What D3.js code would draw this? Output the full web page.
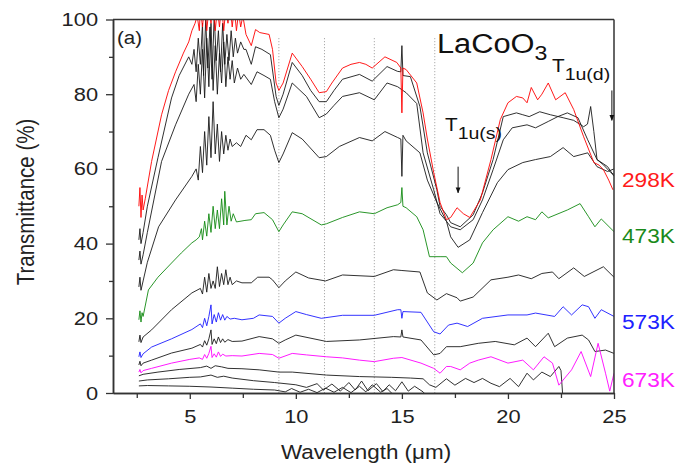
<!DOCTYPE html>
<html><head><meta charset="utf-8">
<script src="https://cdn.jsdelivr.net/npm/d3@7"></script>
<style>
html,body{margin:0;padding:0;background:#fff;}
svg{display:block;font-family:"Liberation Sans",Arial,sans-serif;}
</style></head>
<body><svg id="c" width="678" height="471"></svg>
<script>
// ---------- data (wavelength µm, transmittance %) ----------
const xTicks = [5, 10, 15, 20, 25];
const xMinor = [2.5, 7.5, 12.5, 17.5, 22.5];
const yTicks = [0, 20, 40, 60, 80, 100];
const yMinor = [10, 30, 50, 70, 90];
const guideLines = [9.2, 11.35, 13.7, 16.55];

const s298 = [[2.6,50],[2.65,55],[2.7,47],[2.75,53],[2.8,49],[2.9,52],[3.2,62],[3.67,74.5],[4.0,81],[4.33,86],[4.7,91],[4.95,94],[5.1,97],[5.25,99],[5.35,101],[5.45,97],[5.5,103],[5.6,98],[5.7,104],[5.8,97],[5.9,103],[6.0,99],[6.1,105],[6.2,97],[6.3,103],[6.4,98],[6.5,104],[6.6,97],[6.7,103],[6.8,99],[6.9,104],[7.0,98],[7.1,103],[7.2,97],[7.3,102],[7.4,98],[7.5,101],[7.65,96],[7.9,93],[8.1,97.3],[8.3,96.5],[8.74,96],[8.9,92],[9.07,83],[9.2,81],[9.4,83],[9.83,91],[10.3,87.4],[10.7,84],[11.1,80.4],[11.44,80.7],[11.7,83],[12.2,87],[12.6,88],[13.0,88.5],[13.3,88],[13.6,87],[14.2,90],[14.76,88.5],[14.95,87],[15.0,75],[15.05,87],[15.2,86.6],[15.7,83],[16.0,75],[16.2,68],[16.5,59],[16.8,51],[17.1,46.4],[17.3,47],[17.6,49.6],[17.9,48],[18.2,47],[18.7,51.7],[19.2,62.5],[19.64,73.2],[20,77.7],[20.4,79.4],[20.7,79],[20.9,77.7],[21.1,81.8],[21.4,78.5],[21.6,80],[21.9,83],[22.25,78.5],[22.7,80.4],[23.1,75.9],[23.57,68.6],[24.05,61.7],[24.3,61],[24.5,59.8],[24.75,57],[24.95,54.4]];
const s323 = [[2.6,41],[2.65,44],[2.7,40],[2.8,43],[3.0,50],[3.5,63],[4.14,79],[4.5,85],[4.95,90],[5.1,88],[5.2,92],[5.3,86],[5.4,95],[5.5,88],[5.6,99],[5.65,85],[5.75,100],[5.85,87],[5.95,98],[6.05,84],[6.15,101],[6.25,89],[6.35,97],[6.45,86],[6.55,99],[6.65,88],[6.75,96],[6.85,89],[6.95,97],[7.05,90],[7.15,95],[7.25,91],[7.4,94],[7.55,92],[7.65,92],[7.9,88],[8.1,92.7],[8.4,92],[8.8,90.6],[9.07,79.4],[9.2,77],[9.4,80],[9.83,88.5],[10.3,85],[10.7,81],[11.1,78],[11.44,78],[11.8,81],[12.2,84],[13.0,85.3],[13.6,83.5],[14.3,87.4],[14.8,86.1],[14.95,86],[15.0,93],[15.05,85],[15.4,84.7],[15.85,76.7],[16.2,64.3],[16.65,54.4],[16.8,50],[17.1,47.7],[17.3,45.6],[17.75,44.5],[18.36,47.7],[18.8,53.6],[19.3,62.5],[19.78,74],[20.4,75],[20.7,74.5],[21.0,74],[21.5,75.3],[22.0,74.5],[22.6,73.7],[23.1,73],[23.57,71.3],[23.75,72],[23.9,76.7],[24.05,70],[24.2,62.5],[24.5,61.1],[24.85,59],[25,58.5]];
const s373 = [[2.6,35.6],[2.65,38],[2.7,34.5],[2.8,37],[3.0,43],[3.67,62],[4.33,71.8],[4.95,80],[5.2,82.6],[5.3,78],[5.4,88],[5.5,80],[5.6,92],[5.7,79],[5.8,95],[5.9,82],[6.0,99],[6.1,81],[6.2,93],[6.3,80],[6.4,91],[6.5,83],[6.6,94],[6.7,82],[6.8,90],[6.9,84],[7.0,89],[7.1,83],[7.25,87],[7.4,84],[7.55,85.3],[7.9,82.6],[8.17,86],[8.5,85],[8.8,84],[9.0,78],[9.2,73.7],[9.4,76],[9.83,83],[10.5,79.4],[11.1,73.7],[11.44,74.7],[11.8,77],[12.2,79.4],[13.0,80.4],[13.7,78.5],[14.3,83],[14.8,82],[15.2,80.4],[15.7,77.5],[16.0,64.3],[16.5,54.4],[16.8,48],[17.1,46],[17.3,44.5],[17.75,43.7],[18.36,46.4],[18.8,51.7],[19.3,59.8],[19.78,67.8],[20.2,71],[20.9,71.8],[21.3,71],[21.9,72.7],[22.35,74],[22.8,75],[23.3,73.7],[23.76,67.8],[24.2,62.5],[24.7,60.6],[25,58]];
const s423 = [[2.6,28.4],[2.65,31],[2.7,27.5],[2.8,30],[3.0,35],[3.53,44.5],[4.33,51.7],[5.1,58],[5.3,60],[5.4,57],[5.5,66],[5.6,59],[5.7,70],[5.8,61],[5.9,74],[6.0,63],[6.1,78],[6.2,64],[6.3,72],[6.4,62],[6.5,70],[6.6,64],[6.7,69],[6.8,65],[6.9,68],[7.0,66],[7.2,67],[7.4,66],[7.65,69],[7.9,67.8],[8.17,70.5],[8.5,70.5],[8.8,69],[9.0,65],[9.2,61.7],[9.4,64],[9.83,69.7],[10.3,68],[11.1,63],[11.44,63.3],[12.05,66],[13.0,68.4],[13.6,67.5],[14.2,70],[14.8,68.4],[14.95,68],[15.0,58],[15.05,69],[15.2,67.5],[15.85,64.3],[16.2,57],[16.65,51],[17.1,46],[17.3,41.8],[17.65,39],[18.2,41],[18.8,48.3],[19.5,56.3],[20,59.8],[20.7,61.7],[21.3,62.5],[22.0,63.3],[22.6,65.7],[23.1,63.3],[23.76,64.3],[24.2,60.6],[24.7,59.3],[25,60]];
const s473 = [[2.6,19.6],[2.65,22],[2.7,19],[2.75,21.5],[2.8,20.5],[3.05,27.6],[3.5,31],[4.14,34.8],[4.6,37.5],[5.1,40.2],[5.3,41],[5.45,41.8],[5.55,44],[5.6,41],[5.7,46],[5.8,42],[5.9,48],[6.0,43],[6.1,50],[6.2,44],[6.3,49],[6.4,44],[6.5,52],[6.6,45],[6.65,54],[6.75,45],[6.85,50],[6.95,46],[7.05,48],[7.2,45.8],[7.6,46.2],[7.9,46.4],[8.1,48],[8.5,48.3],[8.9,46.4],[9.2,43.2],[9.4,45],[9.83,48.5],[10.3,48],[11.2,45],[11.44,45.3],[12.2,47],[13.0,48.5],[13.7,48],[14.3,49.6],[14.8,50.4],[14.95,51],[15.0,55],[15.05,50],[15.2,49.6],[15.7,47.2],[16.0,43.7],[16.3,36.5],[16.8,36.5],[17.1,36.5],[17.3,34.8],[17.85,32.2],[18.36,34.8],[18.8,40.2],[19.3,43.7],[20,47.2],[20.5,46],[20.9,47.2],[21.3,46.4],[21.6,48.5],[21.9,46.9],[22.8,49],[23.4,50.7],[23.8,47.2],[24.1,44.5],[24.4,46.6],[25,43.2]];
const s523 = [[2.6,13.7],[2.65,15.5],[2.7,13.5],[2.8,15],[3.2,16.9],[4.14,22.3],[5.1,26.8],[5.5,28],[5.6,26.5],[5.7,31],[5.8,27],[5.9,32],[6.0,28],[6.1,30],[6.2,28],[6.3,33.8],[6.4,28.5],[6.5,32],[6.6,29],[6.7,33],[6.8,29],[6.9,31],[7.0,29],[7.2,30],[7.46,29.5],[7.9,29.5],[8.2,31],[8.74,31],[8.9,30.3],[9.2,28.2],[9.5,30],[10.0,32.4],[10.6,30.8],[11.4,30],[12.2,31.6],[13.7,31.2],[14.6,33],[15.0,32.8],[15.85,32.4],[16.2,26.8],[16.65,24.9],[17.1,26.6],[17.6,25.5],[17.75,24.6],[18.36,25.7],[19.2,30.3],[20,31],[20.5,31.6],[21.1,30.6],[21.6,32],[22.1,32.4],[22.4,30.6],[23.1,33.5],[23.6,31.2],[24.5,33.8],[25,31]];
const s573 = [[2.6,9.7],[2.65,11],[2.7,9.5],[2.8,10.5],[3.2,12.3],[4.14,14.5],[5.1,17],[5.5,18.5],[5.6,17.5],[5.7,20],[5.8,18],[5.9,20.5],[6.0,23.6],[6.05,18.5],[6.15,21],[6.25,19],[6.35,21.5],[6.45,19.5],[6.55,21],[6.65,19.5],[6.75,20.5],[6.9,19.8],[7.1,20],[7.46,19.6],[8.0,20],[8.27,20.9],[8.9,20.5],[9.2,18.7],[9.5,20],[10.0,21.8],[10.5,21],[11.2,20],[12.2,20.8],[13.7,20.8],[14.8,22.3],[14.95,22.3],[15.0,20],[15.05,21.8],[15.9,21.6],[16.5,16.4],[16.8,15.8],[17.2,18.2],[17.6,18.7],[18.1,17.8],[18.8,20],[20,20.9],[20.9,20.9],[21.3,21.4],[22.2,20.5],[22.6,23.1],[23.0,20.9],[23.5,23.6],[23.8,23.1],[24.1,20],[24.4,22.3],[25,20.5]];
const s623 = [[2.6,7.5],[2.65,8.5],[2.7,7.3],[2.8,8],[3.2,8.8],[4.14,10.7],[5.1,12],[5.5,13],[5.6,12.3],[5.7,14],[5.8,12.8],[5.9,14.5],[6.0,16.9],[6.05,13],[6.15,14.5],[6.25,13.2],[6.35,15],[6.45,13.5],[6.55,14.5],[6.65,13.6],[6.8,14.3],[7.0,13.8],[7.46,13.9],[8.27,15.1],[8.9,14.5],[9.2,13.3],[9.5,14.2],[10,15.5],[11.44,13.8],[13.0,14.2],[14.6,15.1],[14.95,15],[15.0,16.9],[15.05,15],[15.9,14.2],[16.5,10.2],[16.8,10.6],[17.1,12.4],[17.75,12.4],[18.6,13.3],[19.4,13.8],[20.3,12.9],[20.9,14.7],[21.3,12.4],[21.9,16],[22.2,12.4],[22.8,14.7],[23.5,15.5],[23.8,14.2],[24.1,11.1],[24.6,11.5],[25,10.6]];
const s673 = [[2.6,5.6],[2.65,6.3],[2.7,5.4],[2.8,6],[3.2,6.6],[4.14,8],[5.0,9],[5.45,9.4],[5.6,9],[5.7,10.3],[5.8,9.3],[5.9,10.6],[6.0,12.5],[6.05,9.5],[6.15,10.5],[6.25,9.6],[6.35,11],[6.45,9.8],[6.55,10.4],[6.7,9.9],[7.0,10],[7.46,9.9],[8.27,10.6],[8.9,10.3],[9.2,9.3],[9.83,10.6],[10.5,10.2],[11.44,9.7],[12.2,9.4],[13.0,8.8],[13.7,8.4],[14.6,9.3],[15.0,9.5],[15.9,8],[16.5,6.6],[16.8,5.3],[17.1,7.1],[17.3,7.1],[17.75,6.2],[18.2,8],[18.6,8.8],[19.2,9.7],[20,8],[20.7,8.8],[21.2,6.2],[21.7,9.7],[22.1,8],[22.4,2.1],[23.0,6.2],[23.45,11.1],[23.9,4.4],[24.25,13.3],[24.6,5.3],[24.8,0.5],[25,5.3]];
const s723 = [[2.6,4.6],[2.8,5],[3.5,5.6],[4.5,6.3],[5.5,6.8],[5.8,7.2],[6.0,6.6],[6.2,7.3],[6.5,7],[6.8,6.6],[7.46,6.5],[8.27,6.2],[9.2,5.6],[9.83,5.6],[11.44,4.8],[13,4.4],[14.5,4.2],[15.4,4],[16.0,3.8],[16.3,2.2],[16.6,1.5],[17.1,3.8],[17.5,2.1],[18,3.9],[18.4,2.8],[18.8,3.9],[19.2,2.6],[19.6,1.7],[20.1,3.9],[20.5,1.7],[20.9,5.3],[21.2,3.5],[21.6,5.6],[22.0,4.4],[22.4,7.1],[22.5,6],[22.6,-2]];
const s773 = [[2.6,3.2],[3,3.5],[4,3.8],[5,4.2],[5.5,4.3],[6,4.8],[6.3,4.2],[6.6,4.5],[7,4],[8,3.3],[9,2.8],[10,2.2],[10.5,1.5],[11,2.5],[11.3,0.8],[11.7,2.4],[12.1,0.5],[12.5,2.8],[12.8,0.8],[13.1,3.2],[13.4,0.6],[13.8,2.5],[14.1,0.4],[14.4,2.2],[14.7,0.6],[15.0,3],[15.3,0.5],[15.6,1.8],[16,0.3],[16.2,-1]];
const s823 = [[2.6,1.9],[3,2],[4,1.9],[5,1.8],[6,1.6],[7,1.3],[8,1],[9,0.8],[9.5,0.3],[9.8,1.2],[10.2,0.2],[10.6,1.0],[11,0.1],[11.4,1.3],[11.8,0.2],[12.2,1.5],[12.6,0.1],[13,1.8],[13.3,0.3],[13.6,2.2],[14,0.2],[14.3,1.2],[14.6,-0.5]];

const tempLabels = ["298K", "473K", "573K", "673K"];
const labelValues = [57, 42, 19, 3.5];   // transmittance level at which each label sits
const arrowX = [17.65, 24.9];
const arrowFrom = [60.6, 81];
const arrowTo = [53.6, 73];

// ---------- chart ----------
const svg = d3.select("#c");
svg.append("rect").attr("width",678).attr("height",471).attr("fill","#fff");

const x = d3.scaleLinear().domain([1.38, 25]).range([113, 614]);
const y = d3.scaleLinear().domain([0, 100]).range([393, 19.5]);

const AX = "#333";
const SX = 1.15;

svg.append("defs").append("clipPath").attr("id","plot")
  .append("rect").attr("x",113).attr("y",19.5).attr("width",501).attr("height",373.5);

// guide dotted lines
svg.append("g").selectAll("line").data(guideLines).join("line")
  .attr("x1", d=>x(d)).attr("x2", d=>x(d))
  .attr("y1", y(95)).attr("y2", y(0))
  .attr("stroke","#9a9a9a").attr("stroke-width",1).attr("stroke-dasharray","1,2");

const line = d3.line().x(d=>x(d[0])).y(d=>y(d[1]));
const series = [
  {d:s823,c:"#1a1a1a"},{d:s773,c:"#1a1a1a"},{d:s723,c:"#1a1a1a"},
  {d:s623,c:"#1a1a1a"},{d:s523,c:"#1a1a1a"},
  {d:s423,c:"#1a1a1a"},{d:s373,c:"#1a1a1a"},{d:s323,c:"#1a1a1a"},
  {d:s673,c:"#ff00ff"},{d:s573,c:"#1c1cff"},{d:s473,c:"#128a12"},{d:s298,c:"#ff0000"}
];
svg.append("g").attr("clip-path","url(#plot)").selectAll("path").data(series).join("path")
  .attr("d", s=>line(s.d)).attr("fill","none").attr("stroke", s=>s.c)
  .attr("stroke-width",0.9).attr("stroke-linejoin","round");

// axes
function styleAxis(g){
  g.select(".domain").attr("stroke",AX).attr("stroke-width",1.5);
  g.selectAll(".tick line").attr("stroke",AX).attr("stroke-width",1.3);
  g.selectAll("text").attr("fill","#222").attr("font-size",19)
    .attr("font-family","Liberation Sans, Arial, sans-serif")
    .attr("transform",`scale(${SX},1)`);
}
svg.append("g").attr("transform","translate(0,393)")
  .call(d3.axisBottom(x).tickValues(xMinor).tickSize(5).tickSizeOuter(0).tickFormat(""))
  .call(styleAxis);
svg.append("g").attr("transform","translate(0,393)")
  .call(d3.axisBottom(x).tickValues(xTicks).tickSize(6).tickSizeOuter(0).tickPadding(11).tickFormat(d3.format("d")))
  .call(styleAxis);
svg.append("g").attr("transform","translate(113,0)")
  .call(d3.axisLeft(y).tickValues(yMinor).tickSize(4).tickSizeOuter(0).tickFormat(""))
  .call(styleAxis);
svg.append("g").attr("transform","translate(113,0)")
  .call(d3.axisLeft(y).tickValues(yTicks).tickSize(7).tickSizeOuter(0).tickPadding(6).tickFormat(d3.format("d")))
  .call(styleAxis);
// top & right frame
svg.append("line").attr("x1",113).attr("x2",614).attr("y1",19.5).attr("y2",19.5).attr("stroke",AX).attr("stroke-width",1.5);
svg.append("line").attr("x1",614).attr("x2",614).attr("y1",19.5).attr("y2",393).attr("stroke",AX).attr("stroke-width",1.5);

// axis titles
svg.append("text").attr("transform",`translate(366,459) scale(${SX},1)`)
  .attr("text-anchor","middle").attr("font-size",19.5).attr("fill","#222").text("Wavelength (\u03BCm)");
svg.append("text").attr("transform",`translate(34,202) rotate(-90) scale(1,${SX})`)
  .attr("text-anchor","middle").attr("font-size",20.5).attr("fill","#222").text("Transmittance (%)");

// panel label and formula
svg.append("text").attr("transform","translate(117,44) scale(1.08,1)").attr("font-size",19).attr("fill","#222").text("(a)");
const f = svg.append("text").attr("transform","translate(437,53) scale(1.1,1)").attr("font-size",28).attr("fill","#111");
f.append("tspan").text("LaCoO");
f.append("tspan").attr("dy",7).attr("font-size",21).text("3");

function tlabel(px, py, sub){
  const t = svg.append("text").attr("transform",`translate(${px},${py}) scale(${SX},1)`).attr("font-size",18).attr("fill","#111");
  t.append("tspan").text("T");
  t.append("tspan").attr("dy",8).attr("font-size",17).text(sub);
}
tlabel(552, 72, "1u(d)");
tlabel(445, 131, "1u(s)");

// arrows
const defs = svg.select("defs");
defs.append("marker").attr("id","ah").attr("viewBox","0 0 10 10").attr("refX",9).attr("refY",5)
  .attr("markerWidth",6).attr("markerHeight",8).attr("orient","auto")
  .append("path").attr("d","M0,1 L10,5 L0,9 Z").attr("fill","#111");
svg.append("g").selectAll("line").data(arrowX).join("line")
  .attr("x1", d=>x(d)).attr("x2", d=>x(d))
  .attr("y1", (d,i)=>y(arrowFrom[i])).attr("y2",(d,i)=>y(arrowTo[i]))
  .attr("stroke","#111").attr("stroke-width",1).attr("marker-end","url(#ah)");

// temperature labels
const labelColors = ["#ff1a1a","#1a8a1a","#2020ff","#ff20ff"];
svg.append("g").selectAll("text").data(tempLabels).join("text")
  .attr("transform",(d,i)=>`translate(622,${y(labelValues[i])+7}) scale(1.08,1)`)
  .attr("font-size",21).attr("fill",(d,i)=>labelColors[i]).text(d=>d);
</script>
</body></html>
